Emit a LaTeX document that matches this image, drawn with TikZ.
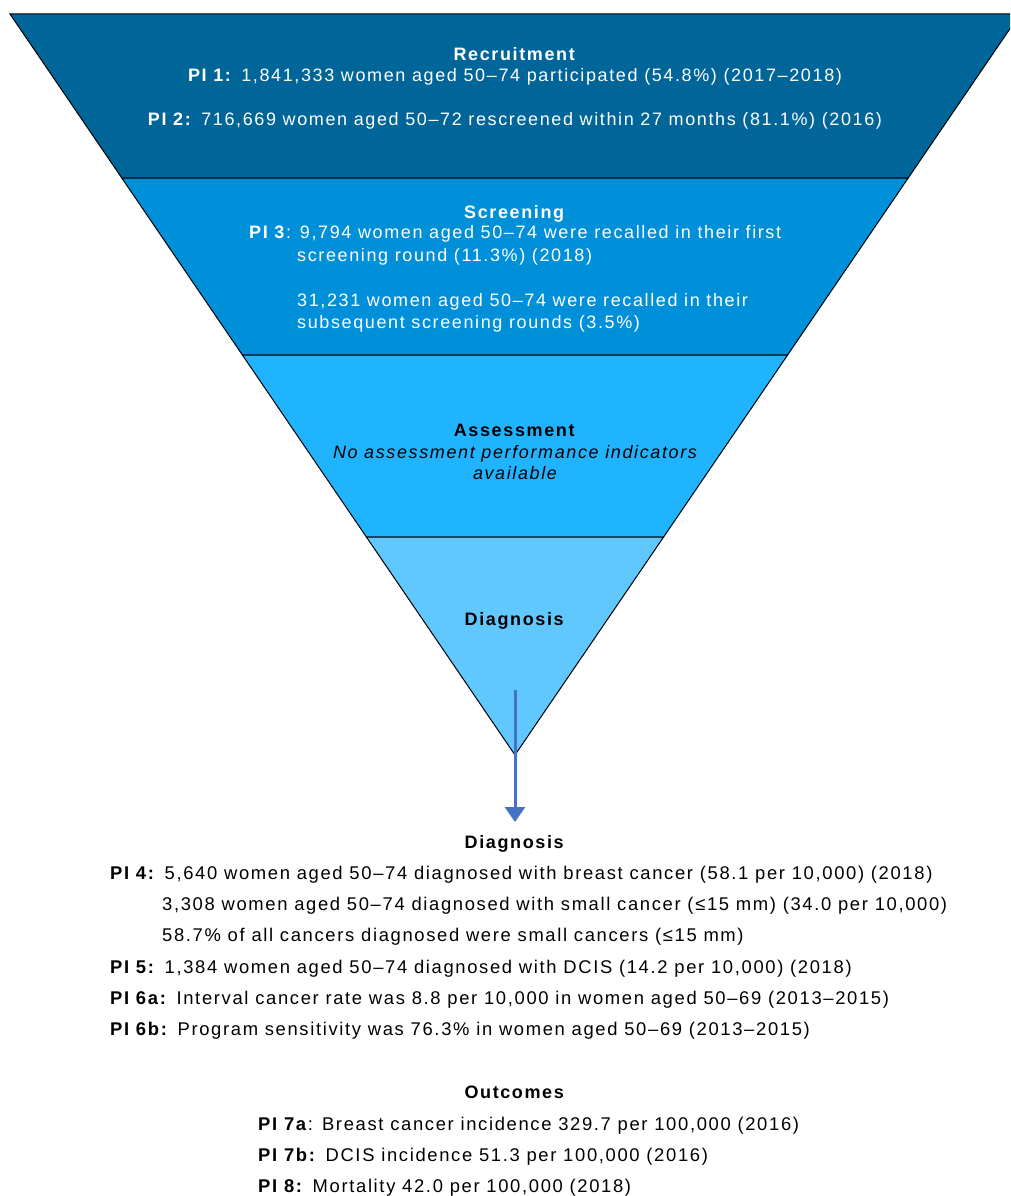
\documentclass[tikz,border=0pt]{standalone}
\usepackage{fontspec}
\setmainfont[LetterSpace=9]{Liberation Sans}
\usetikzlibrary{arrows.meta}
\definecolor{recr}{RGB}{0,101,153}
\definecolor{scrn}{RGB}{0,144,218}
\definecolor{asse}{RGB}{32,180,255}
\definecolor{diagc}{RGB}{96,200,255}
\definecolor{arrc}{RGB}{68,114,196}
\begin{document}
\begin{tikzpicture}[x=1pt,y=-1pt,
  lvl/.style={draw=black, line width=1pt, line join=miter},
  txt/.style={font=\fontsize{18}{22}\selectfont, inner sep=0pt, anchor=base},
  wtxt/.style={txt, text=white},
  btxt/.style={txt, text=black},
  ltxt/.style={txt, font=\fontsize{18.4}{22}\selectfont, anchor=base west, text=black},
  wltxt/.style={txt, anchor=base west, text=white}]
\useasboundingbox (0,0) rectangle (1010,1196);
\clip (0,0) rectangle (1010,1196);
% funnel levels
\filldraw[fill=recr, lvl] (10,14) -- (1020,14) -- (908.2,178) -- (121.8,178) -- cycle;
\filldraw[fill=scrn, lvl] (121.8,178) -- (908.2,178) -- (787.6,355) -- (242.4,355) -- cycle;
\filldraw[fill=asse, lvl] (242.4,355) -- (787.6,355) -- (663.6,537) -- (366.4,537) -- cycle;
\filldraw[fill=diagc, lvl] (366.4,537) -- (663.6,537) -- (515,755) -- cycle;
% recruitment
\node[wtxt] (rec) at (515,61) {\textbf{Recruitment}};
\node[wtxt] (pi1) at (515,82) {\textbf{PI 1:} 1,841,333 women aged 50–74 participated (54.8\%) (2017–2018)};
\node[wtxt] (pi2) at (515,126) {\textbf{PI 2:} 716,669 women aged 50–72 rescreened within 27 months (81.1\%) (2016)};
% screening
\node[wtxt] (scr) at (515,218) {\textbf{Screening}};
\node[wltxt] (pi3) at (249,238) {\textbf{PI 3}: 9,794 women aged 50–74 were recalled in their first};
\node[wltxt] (pi3b) at (297,261) {screening round (11.3\%) (2018)};
\node[wltxt] (pi3c) at (297,306) {31,231 women aged 50–74 were recalled in their};
\node[wltxt] (pi3d) at (297,328) {subsequent screening rounds (3.5\%)};
% assessment
\node[btxt] (ass) at (515,436) {\textbf{Assessment}};
\node[btxt] (ass1) at (515,458) {\itshape No assessment performance indicators};
\node[btxt] (ass2) at (515,479) {\itshape available};
% diagnosis in funnel
\node[btxt] (dg1) at (515,625) {\textbf{Diagnosis}};
% arrow
\coordinate (arrS) at (515,690);
\coordinate (arrE) at (515,822);
\draw[arrc, line width=3pt, -{Triangle[width=20pt,length=15pt]}] (arrS) -- (arrE);
% diagnosis results
\node[btxt] (dg2) at (515,848) {\textbf{Diagnosis}};
\node[ltxt] (pi4) at (110,879) {\textbf{PI 4:} 5,640 women aged 50–74 diagnosed with breast cancer (58.1 per 10,000) (2018)};
\node[ltxt] (pi4b) at (162,910) {3,308 women aged 50–74 diagnosed with small cancer (≤15 mm) (34.0 per 10,000)};
\node[ltxt] (pi4c) at (162,941) {58.7\% of all cancers diagnosed were small cancers (≤15 mm)};
\node[ltxt] (pi5) at (110,973) {\textbf{PI 5:} 1,384 women aged 50–74 diagnosed with DCIS (14.2 per 10,000) (2018)};
\node[ltxt] (pi6a) at (110,1004) {\textbf{PI 6a:} Interval cancer rate was 8.8 per 10,000 in women aged 50–69 (2013–2015)};
\node[ltxt] (pi6b) at (110,1035) {\textbf{PI 6b:} Program sensitivity was 76.3\% in women aged 50–69 (2013–2015)};
% outcomes
\node[btxt] (out) at (515,1098) {\textbf{Outcomes}};
\node[ltxt] (pi7a) at (258,1130) {\textbf{PI 7a}: Breast cancer incidence 329.7 per 100,000 (2016)};
\node[ltxt] (pi7b) at (258,1161) {\textbf{PI 7b:} DCIS incidence 51.3 per 100,000 (2016)};
\node[ltxt] (pi8) at (258,1192) {\textbf{PI 8:} Mortality 42.0 per 100,000 (2018)};
\end{tikzpicture}
\end{document}
